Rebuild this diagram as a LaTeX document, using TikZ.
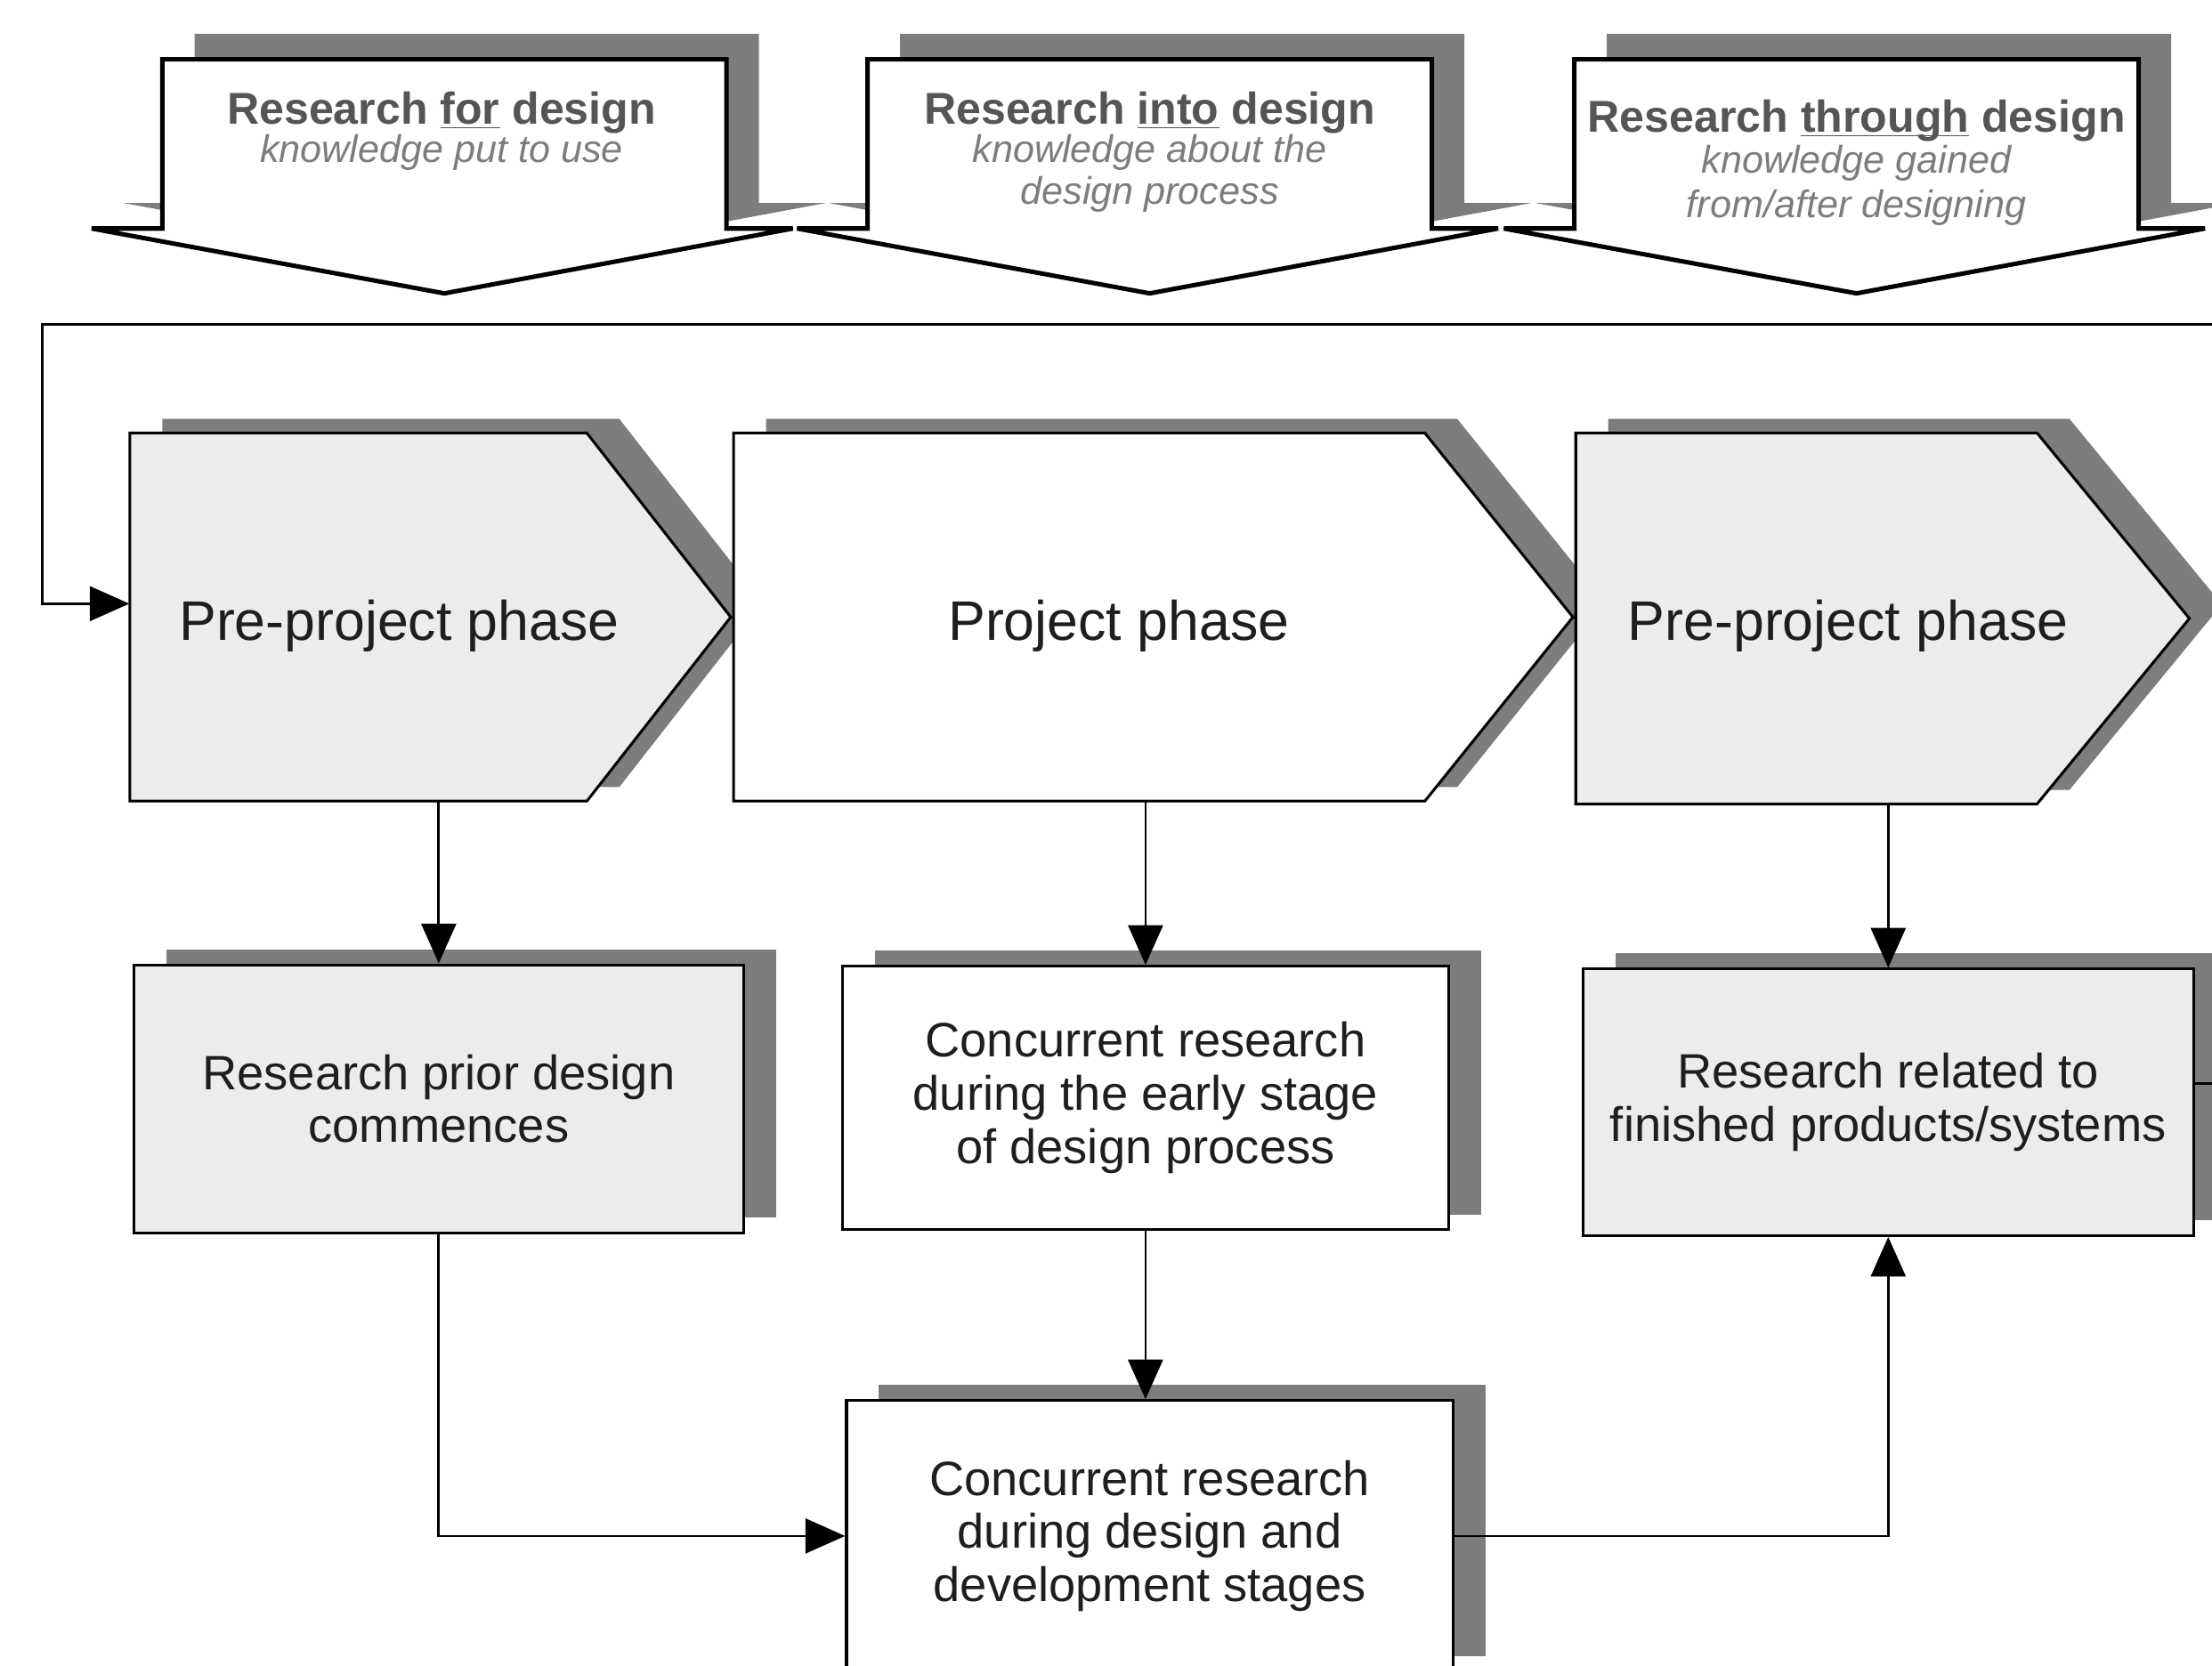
\documentclass[tikz,border=0pt]{standalone}
\usepackage{fontspec}
\setmainfont{Liberation Sans}
\usetikzlibrary{arrows.meta,shadows,backgrounds,calc}

\definecolor{shadowgray}{RGB}{125,125,125}
\definecolor{lightfill}{RGB}{236,236,236}
\definecolor{titlegray}{RGB}{85,85,85}
\definecolor{subgray}{RGB}{125,125,125}
\definecolor{inkgray}{RGB}{30,30,30}

% underline that ignores descenders
\newcommand\flatul[1]{\underline{\smash{#1}}}
% banner arrow outline around a centre x
\newcommand\bannerpoly[1]{({#1-200},42) -- ({#1+200},42) -- ({#1+200},162) -- ({#1+247},162) -- (#1,208) -- ({#1-250},162) -- ({#1-200},162) -- cycle}
% phase pentagon: left, top, body right, tip x, bottom
\newcommand\phasepoly[5]{(#1,#2) -- (#3,#2) -- (#4,{(#2+#5)/2}) -- (#3,#5) -- (#1,#5) -- cycle}

\begin{document}
\begin{tikzpicture}[x=0.02cm,y=-0.02cm,
  conn/.style={draw=black, line width=1pt},
  arr/.style={conn, -{Triangle[length=16pt,width=14pt]}},
  stepbox/.style={rectangle, draw=black, line width=1.1pt, text=inkgray,
    align=center, inner sep=2pt, font=\fontsize{19.5}{21.5}\selectfont,
    general shadow={fill=shadowgray, shadow xshift=0.46cm, shadow yshift=0.22cm}},
  greybox/.style={stepbox, fill=lightfill},
  whitebox/.style={stepbox, fill=white},
  phasearea/.style={rectangle, draw=none, inner sep=0pt},
  phaselabel/.style={text=inkgray, anchor=base, inner sep=0pt,
    font=\fontsize{22.5}{24}\selectfont},
  bannertitle/.style={text=titlegray, anchor=base, inner sep=0pt,
    font=\fontsize{18}{20}\selectfont\bfseries},
  bannersub/.style={text=subgray, anchor=base, inner sep=0pt,
    font=\fontsize{15.5}{17}\selectfont\itshape},
  bannershape/.style={fill=white, draw=black, line width=1.8pt, line join=miter},
  phaseshape/.style={draw=black, line width=1.1pt, line join=miter}
]
\useasboundingbox (0,0) rectangle (1568,1181);

% ---------- shapes behind the texts ----------
\begin{scope}[on background layer]
  \fill[white] (0,0) rectangle (1568,1181);
  % banner arrows with their drop shadows
  \foreach \cx in {315,815,1316} {
    \fill[shadowgray, shift={(23,-18)}] \bannerpoly{\cx};
    \path[bannershape] \bannerpoly{\cx};
  }
  % phase pentagons with their drop shadows
  \fill[shadowgray, shift={(23,-10)}] \phasepoly{92}{307}{416}{518}{568};
  \path[phaseshape, fill=lightfill] \phasepoly{92}{307}{416}{518}{568};
  \fill[shadowgray, shift={(23,-10)}] \phasepoly{520}{307}{1010}{1115}{568};
  \path[phaseshape, fill=white] \phasepoly{520}{307}{1010}{1115}{568};
  \fill[shadowgray, shift={(23,-10)}] \phasepoly{1117}{307}{1444}{1552}{570};
  \path[phaseshape, fill=lightfill] \phasepoly{1117}{307}{1444}{1552}{570};
\end{scope}

% ---------- banner texts ----------
\node[bannertitle] (t1) at (313,88) {Research \flatul{for} design};
\node[bannersub] (s1) at (313,115) {knowledge put to use};
\node[bannertitle] (t2) at (815,88) {Research \flatul{into} design};
\node[bannersub] (s2a) at (815,115) {knowledge about the};
\node[bannersub] (s2b) at (815,145) {design process};
\node[bannertitle] (t3) at (1316,94) {Research \flatul{through} design};
\node[bannersub] (s3a) at (1316,123) {knowledge gained};
\node[bannersub] (s3b) at (1316,154) {from/after designing};

% ---------- phases ----------
\node[phasearea, minimum width=8.52cm, minimum height=5.22cm] (p1) at (305,437.5) {};
\node[phasearea, minimum width=11.9cm, minimum height=5.22cm] (p2) at (817.5,437.5) {};
\node[phasearea, minimum width=8.7cm, minimum height=5.26cm] (p3) at (1334.5,438.5) {};
\node[phaselabel] (p1t) at (283,454) {Pre-project phase};
\node[phaselabel] (p2t) at (793,454) {Project phase};
\node[phaselabel] (p3t) at (1310,454) {Pre-project phase};

% ---------- research boxes ----------
\node[greybox, minimum width=8.64cm, minimum height=3.8cm] (b1) at (311,779)
  {Research prior design\\commences};
\node[whitebox, minimum width=8.6cm, minimum height=3.74cm] (b2) at (812,778.5)
  {Concurrent research\\during the early stage\\of design process};
\node[greybox, minimum width=8.66cm, minimum height=3.78cm] (b3) at (1338.5,781.5)
  {Research related to\\finished products/systems};
\node[whitebox, minimum width=8.6cm, minimum height=3.84cm] (b4) at (815,1089)
  {Concurrent research\\during design and\\development stages};

% ---------- connectors ----------
\coordinate (fbR) at (1568,230);
\coordinate (fbL) at (30,230);
\coordinate (outR) at (1568,768);
\draw[arr] (fbR) -- (fbL) |- ([yshift=0.19cm]p1.west);
\draw[arr] (b1.north |- p1.south) -- (b1.north);
\draw[arr] (b2.north |- p2.south) -- (b2.north);
\draw[arr] (b3.north |- p3.south) -- (b3.north);
\draw[arr] (b2.south) -- (b2.south |- b4.north);
\draw[arr] (b1.south) |- (b4.west);
\draw[arr] (b4.east) -| (b3.south);
\draw[conn] (b3.east |- outR) -- (outR);
\end{tikzpicture}
\end{document}
